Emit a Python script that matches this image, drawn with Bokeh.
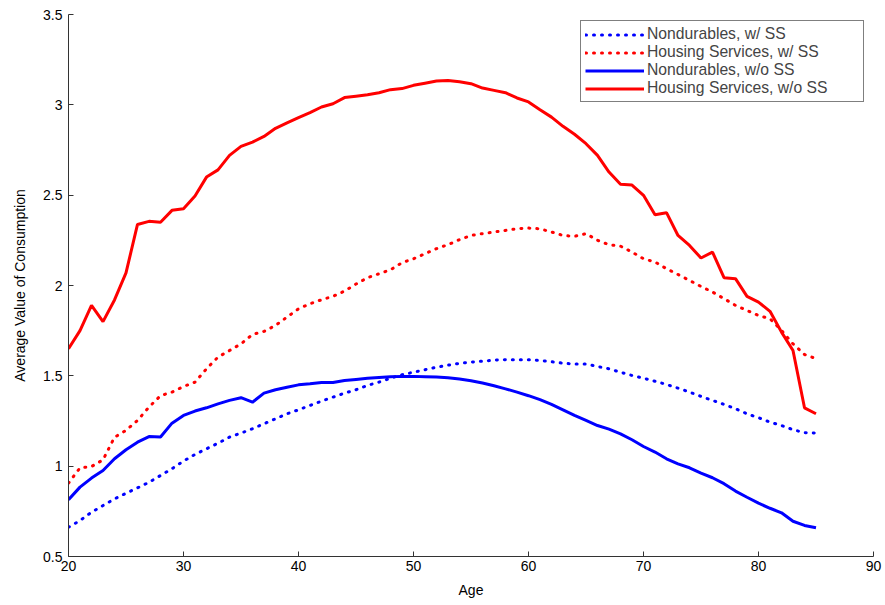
from bokeh.plotting import figure
from bokeh.models import Range1d, FixedTicker, Legend, LegendItem
from bokeh.embed import file_html
from bokeh.resources import INLINE

ages = list(range(20, 86))

nond_ss = [0.662, 0.699, 0.745, 0.782, 0.819, 0.850, 0.880, 0.911, 0.948, 0.986,
           1.028, 1.065, 1.096, 1.127, 1.161, 1.183, 1.207, 1.235, 1.262, 1.290,
           1.312, 1.336, 1.360, 1.382, 1.404, 1.423, 1.447, 1.465, 1.487, 1.506,
           1.520, 1.534, 1.548, 1.559, 1.569, 1.576, 1.581, 1.587, 1.589, 1.589,
           1.589, 1.585, 1.578, 1.570, 1.565, 1.565, 1.552, 1.539, 1.520, 1.502,
           1.487, 1.470, 1.452, 1.432, 1.410, 1.386, 1.364, 1.342, 1.318, 1.290,
           1.268, 1.244, 1.225, 1.202, 1.185, 1.183]

hous_ss = [0.906, 0.991, 0.998, 1.035, 1.160, 1.198, 1.253, 1.327, 1.390, 1.410,
           1.441, 1.465, 1.539, 1.604, 1.640, 1.677, 1.729, 1.746, 1.779, 1.825,
           1.871, 1.899, 1.921, 1.940, 1.969, 2.008, 2.043, 2.065, 2.087, 2.126,
           2.148, 2.176, 2.204, 2.226, 2.254, 2.277, 2.287, 2.296, 2.305, 2.314,
           2.318, 2.314, 2.296, 2.277, 2.272, 2.287, 2.250, 2.226, 2.218, 2.185,
           2.148, 2.130, 2.093, 2.061, 2.028, 1.995, 1.964, 1.927, 1.890, 1.862,
           1.834, 1.816, 1.751, 1.677, 1.618, 1.595]

nond_noss = [0.814, 0.884, 0.934, 0.976, 1.041, 1.091, 1.133, 1.164, 1.161, 1.238,
             1.281, 1.305, 1.323, 1.345, 1.364, 1.379, 1.354, 1.404, 1.423, 1.437,
             1.450, 1.456, 1.463, 1.463, 1.474, 1.480, 1.486, 1.491, 1.495, 1.497,
             1.497, 1.495, 1.493, 1.490, 1.482, 1.473, 1.460, 1.445, 1.428, 1.410,
             1.390, 1.368, 1.342, 1.312, 1.281, 1.253, 1.225, 1.205, 1.179, 1.146,
             1.109, 1.078, 1.041, 1.013, 0.991, 0.961, 0.936, 0.903, 0.862, 0.828,
             0.795, 0.767, 0.742, 0.695, 0.672, 0.659]

hous_noss = [1.650, 1.750, 1.890, 1.800, 1.920, 2.070, 2.338, 2.355, 2.350, 2.416,
             2.425, 2.495, 2.600, 2.640, 2.720, 2.770, 2.794, 2.825, 2.870, 2.900,
             2.929, 2.957, 2.988, 3.006, 3.040, 3.048, 3.056, 3.067, 3.084, 3.090,
             3.108, 3.120, 3.132, 3.135, 3.128, 3.117, 3.093, 3.080, 3.067, 3.038,
             3.016, 2.973, 2.932, 2.881, 2.837, 2.785, 2.720, 2.628, 2.560, 2.556,
             2.499, 2.392, 2.403, 2.277, 2.222, 2.152, 2.185, 2.043, 2.038, 1.940,
             1.908, 1.857, 1.742, 1.640, 1.323, 1.290]

labels = ["Nondurables, w/ SS", "Housing Services, w/ SS",
          "Nondurables, w/o SS", "Housing Services, w/o SS"]
x_ticks = [20, 30, 40, 50, 60, 70, 80, 90]
y_ticks = [0.5, 1, 1.5, 2, 2.5, 3, 3.5]
y_tick_labels = ["0.5", "1", "1.5", "2", "2.5", "3", "3.5"]

FONT = "Liberation Sans"
AX = "#333333"

p = figure(width=885, height=605, output_backend="svg", toolbar_location=None,
           x_range=Range1d(20, 90), y_range=Range1d(0.5, 3.5),
           min_border_left=68, min_border_right=12, min_border_top=14, min_border_bottom=49)
p.outline_line_color = None
p.xgrid.grid_line_color = None
p.ygrid.grid_line_color = None
p.background_fill_color = "white"
p.border_fill_color = "white"

DOT = "1 7"
r1 = p.line(ages, nond_ss, line_color="#0000ff", line_width=3, line_dash=DOT, line_cap="round")
r2 = p.line(ages, hous_ss, line_color="#ff0000", line_width=3, line_dash=DOT, line_cap="round")
r3 = p.line(ages, nond_noss, line_color="#0000ff", line_width=3)
r4 = p.line(ages, hous_noss, line_color="#ff0000", line_width=3)

p.xaxis.ticker = FixedTicker(ticks=x_ticks)
p.yaxis.ticker = FixedTicker(ticks=y_ticks)
p.yaxis.major_label_overrides = {t: l for t, l in zip(y_ticks, y_tick_labels)}
for ax in (p.xaxis[0], p.yaxis[0]):
    ax.axis_line_color = AX
    ax.major_tick_line_color = AX
    ax.major_tick_in = 5
    ax.major_tick_out = 0
    ax.minor_tick_line_color = None
    ax.major_label_text_font = FONT
    ax.major_label_text_font_size = "14px"
    ax.major_label_text_color = "black"
    ax.axis_label_text_font = FONT
    ax.axis_label_text_font_size = "14px"
    ax.axis_label_text_font_style = "normal"
    ax.axis_label_text_color = "black"
p.xaxis.axis_label = "Age"
p.yaxis.axis_label = "Average Value of Consumption"
p.xaxis.major_label_standoff = 4
p.xaxis.axis_label_standoff = 8
p.yaxis.major_label_standoff = 6
p.yaxis.axis_label_standoff = 12

legend = Legend(items=[LegendItem(label=l, renderers=[r]) for l, r in zip(labels, [r1, r2, r3, r4])],
                location=(512, 454))
legend.padding = 4
legend.spacing = 0
legend.label_height = 17
legend.glyph_height = 17
legend.glyph_width = 59
legend.label_standoff = 3
legend.label_width = 212
legend.label_text_font = FONT
legend.label_text_font_size = "15.7px"
legend.border_line_color = "black"
legend.border_line_width = 1
legend.background_fill_alpha = 1
p.add_layout(legend)

open("out.html", "w").write(file_html(p, INLINE))
